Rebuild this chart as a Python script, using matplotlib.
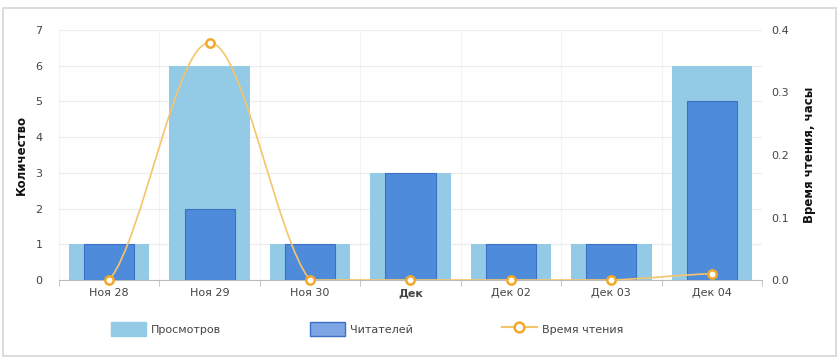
import numpy as np
import matplotlib
matplotlib.use("Agg")
import matplotlib.pyplot as plt
from matplotlib.path import Path
from matplotlib.patches import PathPatch, Patch, Rectangle
from matplotlib.lines import Line2D

plt.rcParams['font.family'] = ['DejaVu Sans']

categories = ["Ноя 28", "Ноя 29", "Ноя 30", "Дек", "Дек 02", "Дек 03", "Дек 04"]
views = [1, 6, 1, 3, 1, 1, 6]
readers = [1, 2, 1, 3, 1, 1, 5]
read_time = [0.0, 0.38, 0.0, 0.0, 0.0, 0.0, 0.01]

light = "#93cae6"
dark = "#4f8bdb"
dark_edge = "#3b70c4"
orange = "#f6c56b"
orange_mk = "#f2a92a"
txt = "#444444"
grid = "#ececec"


def spline_path(xs, ys):
    # cubic bezier per segment; flat tangent at peaks, half secant elsewhere
    n = len(xs)
    d = [(ys[i + 1] - ys[i]) / (xs[i + 1] - xs[i]) for i in range(n - 1)]

    def tangent(j, s):
        if 0 < j < n - 1 and d[j - 1] * d[j] < 0:
            return 0.0
        return 0.5 * d[s]

    verts = [(xs[0], ys[0])]
    codes = [Path.MOVETO]
    for i in range(n - 1):
        h = (xs[i + 1] - xs[i]) / 3
        m0 = tangent(i, i)
        m1 = tangent(i + 1, i)
        verts += [(xs[i] + h, ys[i] + m0 * h), (xs[i + 1] - h, ys[i + 1] - m1 * h),
                  (xs[i + 1], ys[i + 1])]
        codes += [Path.CURVE4] * 3
    return Path(verts, codes)


fig = plt.figure(figsize=(8.4, 3.58), dpi=100)
fig.patches.append(Rectangle((3 / 840, 2 / 358), 833 / 840, 348 / 358, transform=fig.transFigure,
                             fill=False, edgecolor="#d6d6d6", linewidth=1.2))
ax = fig.add_axes([59 / 840, 1 - 280 / 358, 703 / 840, 250 / 358])
x = np.arange(len(categories))

ax.bar(x, views, width=0.8, color=light, zorder=2)
ax.bar(x, readers, width=0.5, color=dark, edgecolor=dark_edge, linewidth=0.8, zorder=3)

ax.set_xlim(-0.5, len(categories) - 0.5)
ax.set_ylim(0, 7)
ax.set_yticks(range(0, 8))
ax.set_xticks(x)
ax.set_xticklabels(categories)
ax.get_xticklabels()[3].set_fontweight("bold")
ax.set_xticks(np.arange(-0.5, len(categories)), minor=True)
ax.tick_params(axis="x", which="major", length=0, pad=6, labelsize=8, colors=txt)
ax.tick_params(axis="x", which="minor", length=4, color="#bbbbbb")
ax.tick_params(axis="y", length=0, pad=12, labelsize=8, colors=txt)
ax.grid(axis="y", color=grid, linewidth=0.8, zorder=0)
ax.grid(axis="x", which="minor", color="#f3f3f3", linewidth=0.8, zorder=0)
for s in ["top", "left", "right"]:
    ax.spines[s].set_visible(False)
ax.spines["bottom"].set_color("#bbbbbb")
ax.set_ylabel("Количество", fontsize=8.5, fontweight="bold", color="#111111", labelpad=5)

ax2 = ax.twinx()
ax2.set_ylim(0, 0.4)
ax2.set_yticks([0.0, 0.1, 0.2, 0.3, 0.4])
ax2.set_yticklabels(["0.0", "0.1", "0.2", "0.3", "0.4"])
ax2.tick_params(axis="y", length=0, pad=7, labelsize=8, colors=txt)
for s in ax2.spines.values():
    s.set_visible(False)
ax2.set_ylabel("Время чтения, часы", fontsize=8.5, fontweight="bold", color="#111111", labelpad=10)

ax2.add_patch(PathPatch(spline_path(list(x.astype(float)), read_time), fill=False,
                        edgecolor=orange, linewidth=1.2, zorder=4))
ax2.plot(x, read_time, linestyle="none", marker="o", markersize=6, markerfacecolor="white",
         markeredgecolor=orange_mk, markeredgewidth=1.8, zorder=5, clip_on=False)

handles = [Patch(facecolor=light, edgecolor=light),
           Patch(facecolor="#7ea6e4", edgecolor=dark_edge),
           Line2D([0], [0], color=orange, linewidth=1.5, marker="o", markersize=7,
                  markerfacecolor="white", markeredgecolor=orange_mk, markeredgewidth=1.8)]
fig.legend(handles, ["Просмотров", "Читателей", "Время чтения"], loc="center",
           bbox_to_anchor=(367 / 840, 1 - 329 / 358), ncol=3, frameon=False, fontsize=8,
           handlelength=3.2, handleheight=1.5, columnspacing=8.0, handletextpad=0.4,
           labelcolor=txt)

fig.savefig("out.png", dpi=100)
